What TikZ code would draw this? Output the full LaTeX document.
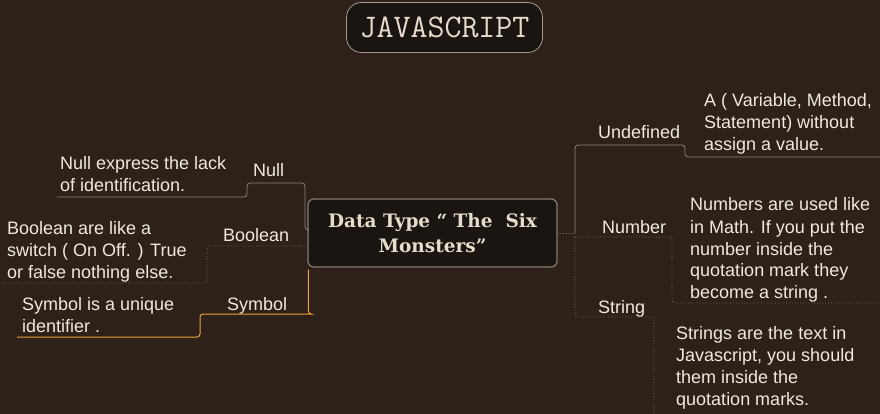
\documentclass[tikz,border=0pt]{standalone}
\usepackage{fontspec}
\setmainfont{Liberation Sans}
\newfontfamily\slabfont{DejaVu Serif}
\definecolor{bgc}{HTML}{2D2119}
\definecolor{boxfill}{HTML}{1B1512}
\definecolor{boxline}{HTML}{857B71}
\definecolor{titleline}{HTML}{A8998A}
\definecolor{txt}{HTML}{EFE9DF}
\definecolor{beige}{HTML}{E6DCCB}
\definecolor{linegray}{HTML}{8F857C}
\definecolor{dotgray}{HTML}{776E66}
\definecolor{orangeline}{HTML}{EDA33A}
\newcommand\desclines[1]{\begin{tabular}[t]{@{}l@{}}#1\end{tabular}}
\begin{document}
\begin{tikzpicture}[x=1pt,y=-1pt,
  lbl/.style={text=txt,font=\fontsize{18}{22}\selectfont,inner sep=0pt,anchor=base west},
  solidline/.style={draw=linegray,line width=0.8pt,rounded corners=3pt},
  dotline/.style={draw=dotgray,line width=0.8pt,dotted,rounded corners=3pt},
  orangestyle/.style={draw=orangeline,line width=1pt,rounded corners=3pt}]
\fill[bgc] (0,0) rectangle (880,414);
\useasboundingbox (0,0) rectangle (880,414);

% title
\node[draw=titleline,fill=boxfill,line width=0.8pt,rounded corners=15pt,minimum width=196pt,minimum height=50pt,text=beige,font=\ttfamily\fontsize{33}{36}\selectfont,inner sep=0pt] (title) at (444.5,27.5) {JAVASCRIPT};

% central node
\node[draw=boxline,fill=boxfill,line width=1.2pt,rounded corners=6pt,minimum width=249pt,minimum height=68pt,text=beige,font=\slabfont\bfseries\fontsize{18.5}{25}\selectfont,align=center,inner sep=0pt] (center) at (432.5,233) {Data Type “ The\ \ Six\\Monsters”};

% left labels
\node[lbl] (null) at (253,177) {Null};
\node[lbl] (boolean) at (223,241) {Boolean};
\node[lbl] (symbol) at (227,310) {Symbol};
\node[lbl] (nulld) at (60,170) {\desclines{Null express the lack\\of identification.}};
\node[lbl] (boold) at (7,234) {\desclines{Boolean are like a\\switch ( On Off. ) True\\or false nothing else.}};
\node[lbl] (symd) at (22,310) {\desclines{Symbol is a unique\\identifier .}};

% right labels
\node[lbl] (undef) at (598,139) {Undefined};
\node[lbl] (number) at (602,233) {Number};
\node[lbl] (string) at (598,313) {String};
\node[lbl] (undefd) at (704,107) {\desclines{A ( Variable, Method,\\Statement) without\\assign a value.}};
\node[lbl] (numd) at (690,211) {\desclines{Numbers are used like\\in Math. If you put the\\number inside the\\quotation mark they\\become a string .}};
\node[lbl] (strd) at (676,339) {\desclines{Strings are the text in\\Javascript, you should\\them inside the\\quotation marks.}};

% coordinates
\coordinate (nullA) at (305,183);
\coordinate (nullB) at (247,197);
\coordinate (nullEnd) at (57,197);
\coordinate (boolB) at (207,283);
\coordinate (boolEnd) at (2,283);
\coordinate (symA) at (309,314);
\coordinate (symB) at (200,337);
\coordinate (symEnd) at (17,337);
\coordinate (hub) at (575,233);
\coordinate (undA) at (575,145);
\coordinate (undB) at (685,157);
\coordinate (undEnd) at (880,157);
\coordinate (numhub) at (575,237);
\coordinate (numA) at (672,237);
\coordinate (numEnd) at (880,303);
\coordinate (strA) at (575,317);
\coordinate (strB) at (654,317);
\coordinate (strEnd) at (654,420);

% left connectors
\draw[solidline] ([yshift=3pt]center.west) -| (nullA) -| (nullB) -- (nullEnd);
\draw[dotline] ([yshift=-13pt]center.west) -| (boolB) -- (boolEnd);
\draw[orangestyle] ([xshift=1pt,yshift=-2pt]center.south west) |- (symA) -| (symB) -- (symEnd);

% right connectors
\draw[dotline] (center.east) -- (hub);
\draw[solidline] (hub) -- (undA) -| (undB) -- (undEnd);
\draw[dotline] (numhub) -- (numA) |- (numEnd);
\draw[dotline] (numhub) -- (strA) -- (strB) -- (strEnd);
\end{tikzpicture}
\end{document}
